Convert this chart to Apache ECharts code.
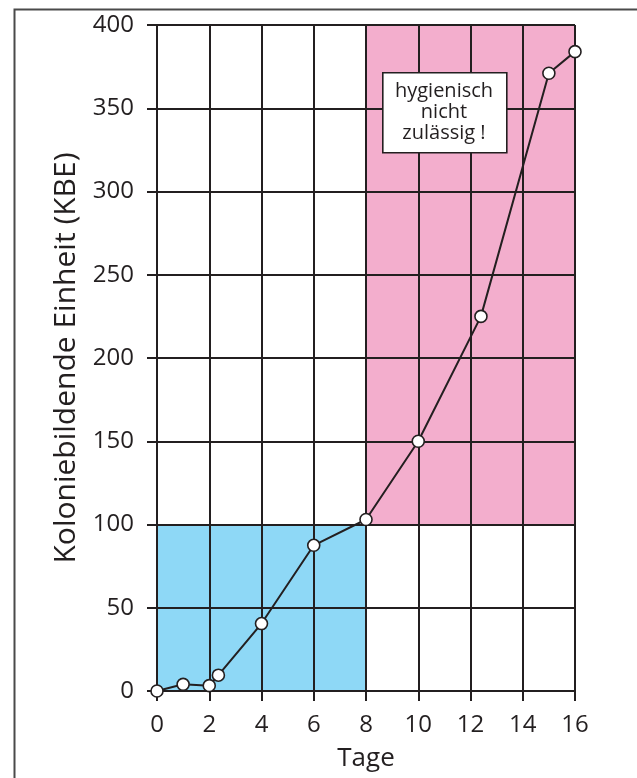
<!DOCTYPE html>
<html>
<head>
<meta charset="utf-8">
<script src="https://cdn.jsdelivr.net/npm/echarts@6/dist/echarts.min.js"></script>
<style>
html,body{margin:0;padding:0;background:#fff;}
#main{width:637px;height:778px;}
</style>
</head>
<body>
<div id="main"></div>
<script>
// Data
const days = [0, 1, 2, 2.35, 4, 6, 8, 10, 12.4, 15, 16];
const kbe = [0, 4, 3.2, 9.5, 40.5, 87.5, 103, 150, 225, 371, 384];
const xTicks = [0, 2, 4, 6, 8, 10, 12, 14, 16];
const yTicks = [0, 50, 100, 150, 200, 250, 300, 350, 400];
const blueZone = [[0, 0], [8, 100]];
const pinkZone = [[8, 100], [16, 400]];
const noteLines = ['hygienisch', 'nicht', 'zulässig !'];
const xName = 'Tage';
const yName = 'Koloniebildende Einheit (KBE)';

const ink = '#231f20';
const font = 'Open Sans';

const chart = echarts.init(document.getElementById('main'), null, {renderer: 'canvas'});
chart.setOption({
  animation: false,
  backgroundColor: '#ffffff',
  grid: {left: 157, right: 62, top: 25, bottom: 87, containLabel: false},
  xAxis: {
    type: 'value', min: xTicks[0], max: xTicks[xTicks.length - 1], interval: 2, z: 3,
    name: xName, nameLocation: 'middle', nameGap: 55,
    nameTextStyle: {fontFamily: font, fontSize: 26, color: ink},
    axisLine: {show: true, lineStyle: {color: ink, width: 2}},
    axisTick: {show: true, length: 10, lineStyle: {color: ink, width: 2}},
    axisLabel: {fontFamily: font, fontSize: 24, color: ink, margin: 22},
    splitLine: {show: true, lineStyle: {color: ink, width: 2}}
  },
  yAxis: {
    type: 'value', min: yTicks[0], max: yTicks[yTicks.length - 1], interval: 50, z: 3,
    name: yName, nameLocation: 'middle', nameGap: 73, nameRotate: 90,
    nameTextStyle: {fontFamily: font, fontSize: 30, color: ink},
    axisLine: {show: true, lineStyle: {color: ink, width: 2}},
    axisTick: {show: true, length: 10, lineStyle: {color: ink, width: 2}},
    axisLabel: {fontFamily: font, fontSize: 24, color: ink, margin: 23},
    splitLine: {show: true, lineStyle: {color: ink, width: 2}}
  },
  series: [
    {
      type: 'line', z: 1, data: [], silent: true,
      markArea: {
        silent: true, z: 1,
        data: [
          [{coord: blueZone[0], itemStyle: {color: '#8ed8f6', opacity: 1}}, {coord: blueZone[1]}],
          [{coord: pinkZone[0], itemStyle: {color: '#f3aecd', opacity: 1}}, {coord: pinkZone[1]}]
        ]
      }
    },
    {
      type: 'line', z: 5,
      data: days.map((d, i) => [d, kbe[i]]),
      symbol: 'circle', symbolSize: 12,
      lineStyle: {color: ink, width: 2},
      itemStyle: {color: '#ffffff', borderColor: ink, borderWidth: 1.6}
    }
  ],
  graphic: [
    {type: 'rect', left: 12, top: 7, shape: {x: 0, y: 0, width: 640, height: 780},
     style: {fill: 'none', stroke: '#4a4a4a', lineWidth: 2}, silent: true, z: 100},
    {type: 'rect', left: 382, top: 72, shape: {x: 0, y: 0, width: 124, height: 80},
     style: {fill: '#ffffff', stroke: ink, lineWidth: 1.6}, z: 50},
    {type: 'text', x: 444, y: 81, z: 51,
     style: {text: noteLines.join('\n'), textAlign: 'center', textVerticalAlign: 'top',
             fontFamily: font, fontSize: 20, lineHeight: 21, fill: ink}}
  ]
});
</script>
</body>
</html>
